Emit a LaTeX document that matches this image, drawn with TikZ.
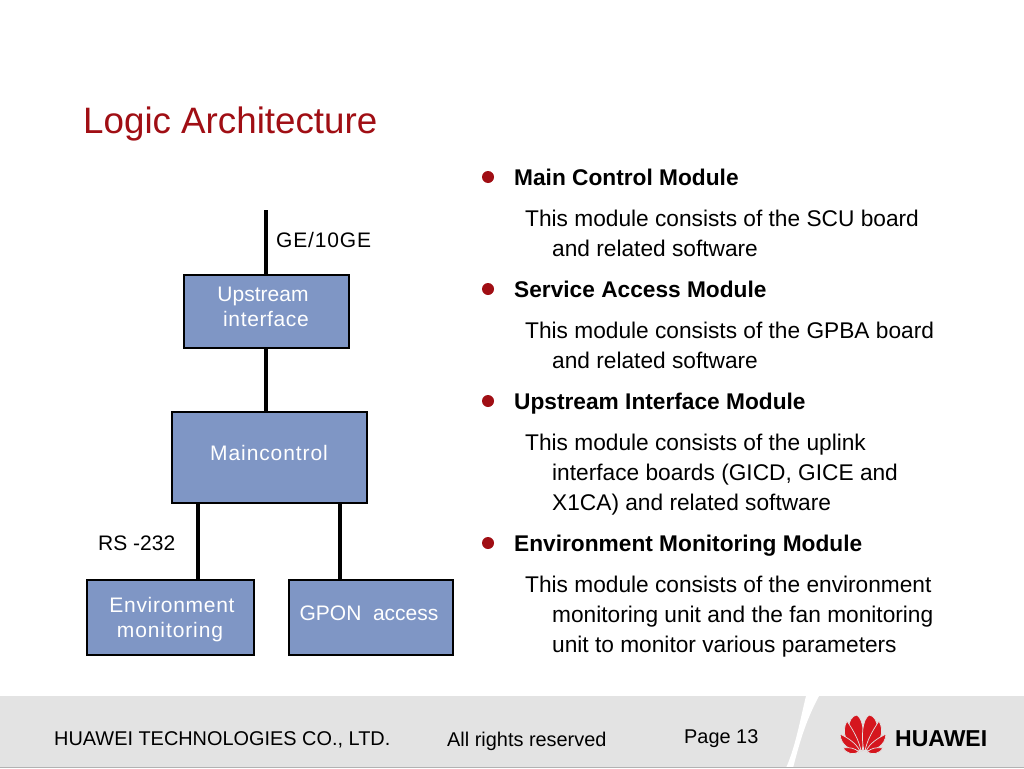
\documentclass[tikz,border=0pt]{standalone}
\usepackage{fontspec}
\setmainfont{Liberation Sans}
\definecolor{boxfill}{HTML}{7F96C5}
\definecolor{hwred}{HTML}{A00E14}
\definecolor{band}{HTML}{E3E3E3}
\definecolor{petal}{HTML}{D5161E}
\tikzset{
  blockbox/.style={draw=black,line width=2pt,fill=boxfill,minimum width=#1,inner sep=0pt,anchor=north west,text=white,align=center},
  wire/.style={line width=4pt,draw=black,line cap=butt},
  txt/.style={anchor=base west,inner sep=0pt,text=black},
  head/.style={txt,font=\fontsize{22.7}{22.7}\selectfont\bfseries},
  bodyt/.style={txt,font=\fontsize{22.7}{22.7}\selectfont},
  lab/.style={txt,font=\fontsize{21}{21}\selectfont},
  foot/.style={txt,font=\fontsize{19.9}{20}\selectfont},
  bul/.style={circle,fill=hwred,minimum size=12pt,inner sep=0pt},
  petalshape/.style={fill=petal,draw=band,line width=0.7pt}
}
\newcommand{\logohalf}{%
  \path[petalshape] (862,751) .. controls (843,738) and (847,716) .. (857,715) .. controls (864,720) and (865,738) .. (862,751) -- cycle;
  \path[petalshape] (861,751) .. controls (845,745) and (841,732) .. (847,721) .. controls (853,730) and (859,740) .. (861,751) -- cycle;
  \path[petalshape] (860,751) .. controls (850,750) and (841,746) .. (840,734) .. controls (848,738) and (856,743) .. (860,751) -- cycle;
  \path[petalshape] (859,752) .. controls (853,755) and (847,754) .. (843,748) .. controls (849,747) and (855,748) .. (859,752) -- cycle;
}
\begin{document}
\begin{tikzpicture}[x=1pt,y=-1pt]
\useasboundingbox (0,0) rectangle (1024,768);
\fill[white] (0,0) rectangle (1024,768);
% footer band
\fill[band] (0,696) rectangle (1024,767);
\fill[white] (806,696) .. controls (800,720) and (796,745) .. (786,768) -- (793,768) .. controls (799,745) and (805,722) .. (819,696) -- cycle;
\draw[line width=0.6pt,draw=black!30] (0,767.5) -- (1024,767.5);
% title
\node[txt,text=hwred,font=\fontsize{36.75}{36.75}\selectfont] (title) at (83,133) {Logic Architecture};
% blocks
\node[blockbox=165.5pt,minimum height=73pt] (up) at (182.5,273.5) {};
\node[blockbox=195.5pt,minimum height=91pt] (main) at (170.5,410.5) {};
\node[blockbox=167.5pt,minimum height=75pt] (env) at (85.5,578.5) {};
\node[blockbox=164.5pt,minimum height=75pt] (gpon) at (287.5,578.5) {};
\node[lab,text=white,anchor=base] (t1) at (263,301) {Upstream};
\node[lab,text=white,anchor=base] (t2) at (266,326) {\addfontfeature{LetterSpace=3}interface};
\node[lab,text=white,anchor=base] (t3) at (269,460) {\addfontfeature{LetterSpace=4.3}Maincontrol};
\node[lab,text=white,anchor=base] (t4) at (172,612) {\addfontfeature{LetterSpace=3.5}Environment};
\node[lab,text=white,anchor=base] (t5) at (170,637) {\addfontfeature{LetterSpace=4.3}monitoring};
\node[lab,text=white,anchor=base] (t6) at (369,620) {GPON~ access};
% connectors
\coordinate (top) at (265.5,210);
\coordinate (ea) at (197.5,579);
\coordinate (ga) at (340,579);
\draw[wire] (top) -- (top |- up.north);
\draw[wire] (top |- up.south) -- (top |- main.north);
\draw[wire] (ea |- main.south) -- (ea);
\draw[wire] (ga |- main.south) -- (ga);
\node[lab] (ge) at (276,247) {\addfontfeature{LetterSpace=4}GE/10GE};
\node[lab] (rs) at (98,550) {RS -232};
% right column
\node[bul] (b1) at (488,177) {};
\node[bul] (b2) at (488,289) {};
\node[bul] (b3) at (488,401) {};
\node[bul] (b4) at (488,543) {};
\node[head] (h1) at (514,185) {Main Control Module};
\node[head] (h2) at (514,297) {Service Access Module};
\node[head] (h3) at (514,409) {Upstream Interface Module};
\node[head] (h4) at (514,551) {Environment Monitoring Module};
\node[bodyt] (a1) at (525,226) {This module consists of the SCU board};
\node[bodyt] (a2) at (552,256) {and related software};
\node[bodyt] (c1) at (525,338) {This module consists of the GPBA board};
\node[bodyt] (c2) at (552,368) {and related software};
\node[bodyt] (d1) at (525,450) {This module consists of the uplink};
\node[bodyt] (d2) at (552,480) {interface boards (GICD, GICE and};
\node[bodyt] (d3) at (552,510) {X1CA) and related software};
\node[bodyt] (e1) at (525,592) {This module consists of the environment};
\node[bodyt] (e2) at (552,622) {monitoring unit and the fan monitoring};
\node[bodyt] (e3) at (552,652) {unit to monitor various parameters};
% footer text
\node[foot] (f1) at (54,745) {HUAWEI TECHNOLOGIES CO., LTD.};
\node[foot] (f2) at (447,746) {All rights reserved};
\node[foot] (f3) at (684,743) {Page 13};
% logo
\logohalf
\begin{scope}[shift={(1726,0)},xscale=-1]
\logohalf
\end{scope}
\node[txt,font=\fontsize{23}{23}\selectfont\bfseries] (hw) at (895,746.5) {HUAWEI};
\end{tikzpicture}
\end{document}
